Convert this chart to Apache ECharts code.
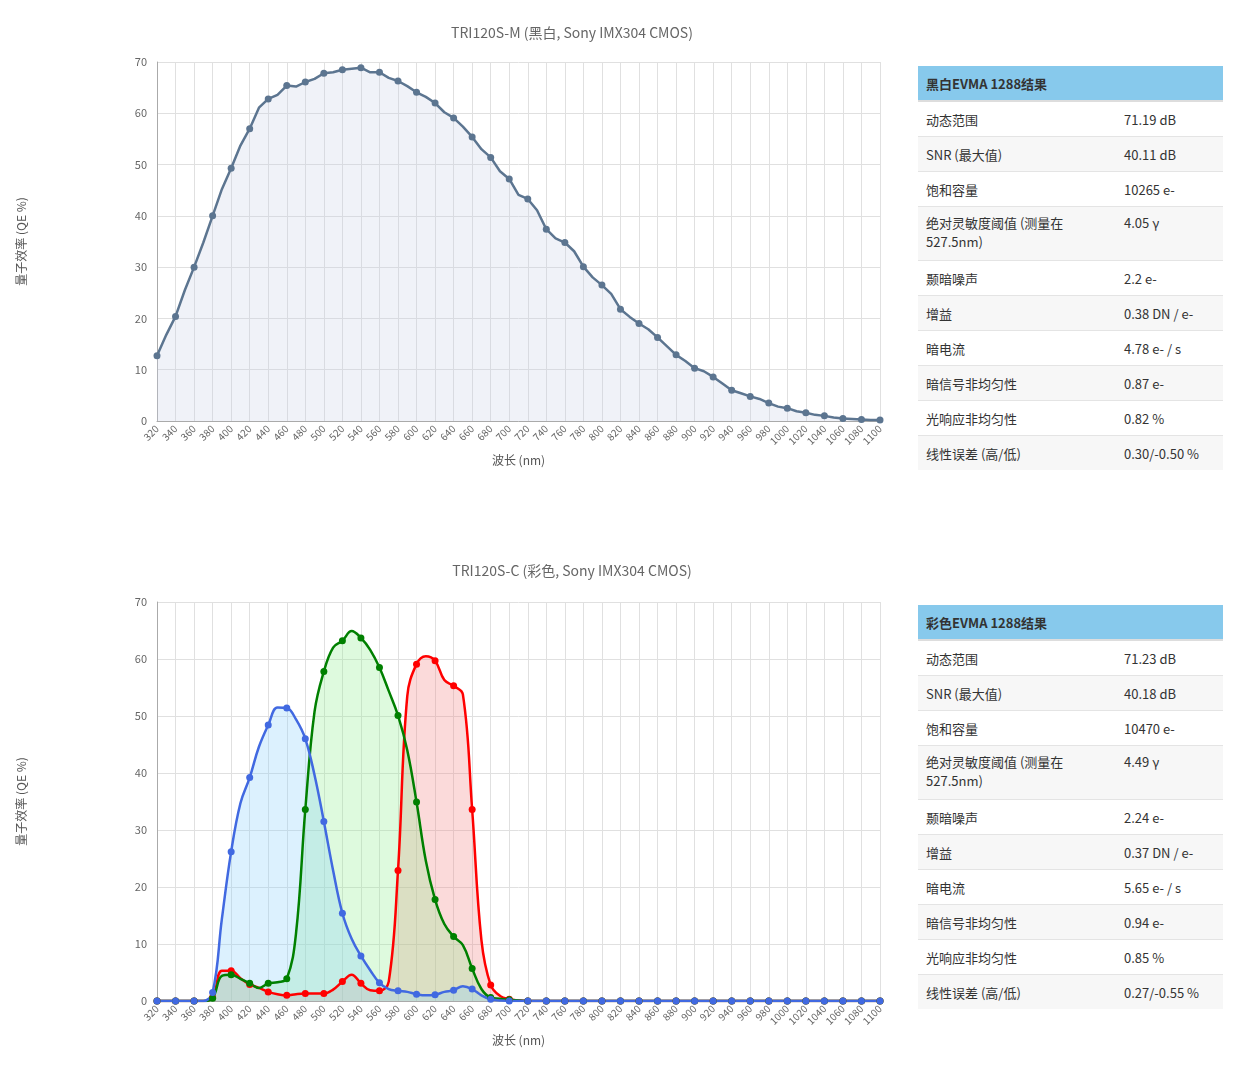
<!DOCTYPE html>
<html>
<head>
<meta charset="utf-8">
<script src="https://cdn.jsdelivr.net/npm/echarts@6/dist/echarts.min.js"></script>
<style>
  body { margin: 0; font-family: "Noto Sans CJK SC", "Noto Sans", sans-serif; background: #fff; }
  .chart { position: absolute; left: 0; width: 905px; height: 538px; }
  .tbl { position: absolute; left: 918px; width: 305px; border-collapse: collapse; font-size: 13px; color: #333; }
  .tbl th { background: #87c9ec; text-align: left; font-weight: bold; height: 34px; padding: 0 8px; border-bottom: 2px solid #ddd; }
  .tbl td { padding: 0 8px; height: 34px; border-top: 1px solid #e4e4e4; vertical-align: middle; }
  .tbl td.tall { height: 47px; vertical-align: top; padding-top: 6px; line-height: 19px; }
  .tbl tr:nth-child(odd) td { background: #f7f7f7; }
  .tbl td:first-child { width: 182px; }
</style>
</head>
<body>
<div id="chartMono" class="chart" style="top:0"></div>
<div id="chartColor" class="chart" style="top:538px"></div>
<table class="tbl" id="tblMono" style="top:66px"></table>
<table class="tbl" id="tblColor" style="top:605px"></table>
<script>
var wavelengths = [];
for (var w = 320; w <= 1100; w += 10) wavelengths.push(String(w));

var monoQE = [12.7,16.8,20.4,25.5,30.0,34.8,40.0,45.2,49.3,53.7,57.0,61.1,62.8,63.6,65.4,65.2,66.1,66.7,67.8,68.0,
  68.5,68.7,68.9,68.0,68.0,66.9,66.3,65.3,64.1,63.2,62.0,60.2,59.1,57.4,55.4,53.0,51.4,48.7,47.2,44.1,
  43.3,41.1,37.4,35.6,34.8,33.1,30.1,28.0,26.5,24.8,21.8,20.3,19.0,17.9,16.3,14.6,12.9,11.7,10.3,9.7,
  8.6,7.3,6.0,5.4,4.8,4.3,3.5,2.8,2.5,1.9,1.6,1.2,1.0,0.7,0.5,0.4,0.3,0.2,0.2];

var tailZeros = [];
for (var i = 0; i < 39; i++) tailZeros.push(0);

var redQE = [0,0,0,0,0,0,0.6,5.3,5.3,4.0,2.9,2.3,1.6,1.2,1.0,1.2,1.3,1.3,1.3,
  2.0,3.4,4.6,3.1,1.9,1.8,3.4,22.9,53.5,59.1,60.5,59.7,56.3,55.3,53.8,33.6,10.7,2.8,0.9,0.3,0.1].concat(tailZeros);
var greenQE = [0,0,0,0,0,0,0.5,4.4,4.6,3.9,3.1,2.3,3.1,3.3,3.9,11.9,33.6,50.8,57.8,
  62.0,63.2,64.9,63.7,61.6,58.5,54.4,50.1,44.0,34.9,24.6,17.8,13.5,11.3,9.8,5.7,2.1,0.6,0.4,0.2,0.1].concat(tailZeros);
var blueQE = [0,0,0,0,0,0,1.5,14.4,26.2,34.7,39.2,44.6,48.4,51.5,51.4,49.4,46.0,39.6,31.5,
  22.9,15.4,10.9,7.9,5.4,3.2,2.1,1.8,1.6,1.2,1.0,1.1,1.6,1.9,2.6,2.1,1.0,0.3,0.1,0,0].concat(tailZeros);

var monoLabels = ['动态范围','SNR (最大值)','饱和容量','绝对灵敏度阈值 (测量在 527.5nm)','颞暗噪声','增益','暗电流','暗信号非均匀性','光响应非均匀性','线性误差 (高/低)'];
var monoValues = ['71.19 dB','40.11 dB','10265 e-','4.05 γ','2.2 e-','0.38 DN / e-','4.78 e- / s','0.87 e-','0.82 %','0.30/-0.50 %'];
var colorValues = ['71.23 dB','40.18 dB','10470 e-','4.49 γ','2.24 e-','0.37 DN / e-','5.65 e- / s','0.94 e-','0.85 %','0.27/-0.55 %'];

function fillTable(id, title, values) {
  var html = '<tr><th colspan="2">' + title + '</th></tr>';
  for (var i = 0; i < monoLabels.length; i++) {
    var cls = i === 3 ? ' class="tall"' : '';
    html += '<tr><td' + cls + '>' + monoLabels[i] + '</td><td' + cls + '>' + values[i] + '</td></tr>';
  }
  document.getElementById(id).innerHTML = html;
}
fillTable('tblMono', '黑白EVMA 1288结果', monoValues);
fillTable('tblColor', '彩色EVMA 1288结果', colorValues);

function baseOption(title, top) {
  return {
    animation: false,
    textStyle: { fontFamily: 'Noto Sans CJK SC' },
    title: { text: title, left: 567, textAlign: 'center', top: 21, textStyle: { fontSize: 14, fontWeight: 'normal', color: '#666' } },
    grid: { left: 157, right: 25, top: top, height: 359 },
    xAxis: {
      type: 'category', data: wavelengths, boundaryGap: false,
      name: '波长 (nm)', nameLocation: 'middle', nameGap: 33,
      nameTextStyle: { color: '#555', fontSize: 12 },
      axisLine: { lineStyle: { color: '#aaa' } },
      axisTick: { show: false },
      axisLabel: { interval: 1, rotate: 45, color: '#666', fontSize: 10, margin: 6 },
      splitLine: { show: true, interval: 1, lineStyle: { color: '#e0e0e0' } }
    },
    yAxis: {
      type: 'value', min: 0, max: 70, interval: 10,
      name: '量子效率 (QE %)', nameLocation: 'middle', nameGap: 130,
      nameTextStyle: { color: '#555', fontSize: 12 },
      axisLine: { show: true, lineStyle: { color: '#aaa' } },
      axisTick: { show: false },
      axisLabel: { color: '#666', fontSize: 11, margin: 10 },
      splitLine: { lineStyle: { color: '#e0e0e0' } }
    }
  };
}

var monoChart = echarts.init(document.getElementById('chartMono'));
var optMono = baseOption('TRI120S-M (黑白, Sony IMX304 CMOS)', 62);
optMono.series = [{
  type: 'line', data: monoQE, symbol: 'circle', symbolSize: 7,
  itemStyle: { color: '#5c7590' }, lineStyle: { width: 2.5, color: '#5c7590' },
  areaStyle: { color: 'rgba(200,208,230,0.4)' }
}];
monoChart.setOption(optMono);

var colorChart = echarts.init(document.getElementById('chartColor'));
var optColor = baseOption('TRI120S-C (彩色, Sony IMX304 CMOS)', 64);
optColor.grid.height = 399;
function rgbSeries(data, line, fill) {
  return {
    type: 'line', data: data, smooth: 0.4, symbol: 'circle', symbolSize: 7,
    itemStyle: { color: line }, lineStyle: { width: 2.5, color: line },
    areaStyle: { color: fill }
  };
}
optColor.series = [
  rgbSeries(redQE, '#ff0000', 'rgba(240,128,128,0.42)'),
  rgbSeries(greenQE, '#008000', 'rgba(144,238,144,0.42)'),
  rgbSeries(blueQE, '#4169e1', 'rgba(135,206,250,0.42)')
];
colorChart.setOption(optColor);
</script>
</body>
</html>
